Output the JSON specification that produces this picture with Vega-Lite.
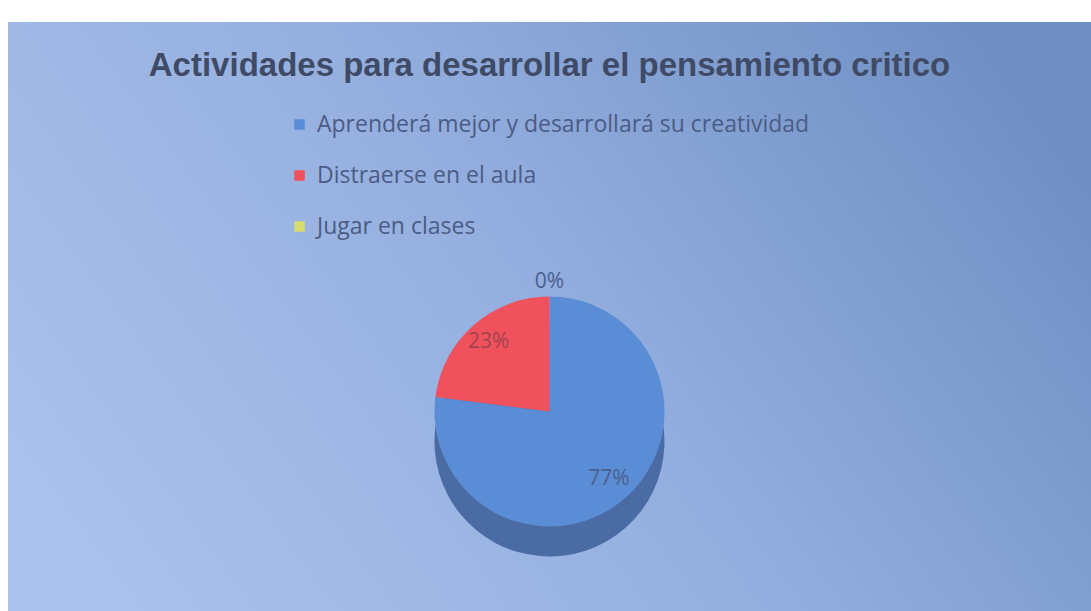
{
  "$schema": "https://vega.github.io/schema/vega-lite/v6.json",
  "width": 1091,
  "height": 611,
  "autosize": {"type": "fit", "contains": "padding"},
  "padding": {"top": 22, "left": 8, "right": 0, "bottom": 0},
  "background": "#ffffff",
  "view": {
    "stroke": null,
    "fill": {
      "gradient": "linear",
      "x1": 0, "y1": 0.7, "x2": 1, "y2": 0.3,
      "stops": [
        {"offset": 0, "color": "#a9c1eb"},
        {"offset": 0.5, "color": "#94afdf"},
        {"offset": 1, "color": "#7090c4"}
      ]
    }
  },
  "title": {
    "text": "Actividades para desarrollar el pensamiento critico",
    "fontSize": 33,
    "font": "Liberation Sans",
    "fontWeight": "bold",
    "color": "#3f4b66",
    "offset": -61,
    "anchor": "middle"
  },
  "data": {
    "values": [
      {"cat": "Aprenderá mejor y desarrollará su creatividad", "pct": 77, "label": "77%"},
      {"cat": "Distraerse en el aula", "pct": 23, "label": "23%"},
      {"cat": "Jugar en clases", "pct": 0, "label": "0%"}
    ]
  },
  "layer": [
    {
      "mark": {"type": "arc", "radius": 115, "yOffset": 125, "color": "#4a6ba3"},
      "encoding": {
        "theta": {"field": "pct", "type": "quantitative", "stack": true},
        "detail": {"field": "cat"},
        "order": {"field": "cat", "sort": "ascending"}
      }
    },
    {
      "mark": {"type": "arc", "radius": 115, "yOffset": 95},
      "encoding": {
        "theta": {"field": "pct", "type": "quantitative", "stack": true},
        "order": {"field": "cat", "sort": "ascending"},
        "color": {
          "field": "cat",
          "type": "nominal",
          "scale": {
            "domain": ["Aprenderá mejor y desarrollará su creatividad", "Distraerse en el aula", "Jugar en clases"],
            "range": ["#5a8dd5", "#ef525c", "#d6db72"]
          },
          "legend": {
            "orient": "none",
            "legendX": 280,
            "legendY": 91,
            "title": null,
            "symbolType": "square",
            "symbolSize": 110,
            "symbolStrokeWidth": 0,
            "labelFontSize": 23,
            "labelFont": "Open Sans",
            "labelColor": "#4b5c85",
            "labelLimit": 0,
            "rowPadding": 27,
            "labelOffset": 6
          }
        }
      }
    },
    {
      "mark": {"type": "text", "radius": 90, "yOffset": 95, "fontSize": 21, "font": "Open Sans", "color": "#4a6090"},
      "encoding": {
        "theta": {"field": "pct", "type": "quantitative", "stack": true},
        "detail": {"field": "cat"},
        "order": {"field": "cat", "sort": "ascending"},
        "text": {"condition": {"test": "datum.pct == 77", "field": "label"}, "value": ""}
      }
    },
    {
      "mark": {"type": "text", "radius": 92, "yOffset": 95, "fontSize": 21, "font": "Open Sans", "color": "#a3434f"},
      "encoding": {
        "theta": {"field": "pct", "type": "quantitative", "stack": true},
        "detail": {"field": "cat"},
        "order": {"field": "cat", "sort": "ascending"},
        "text": {"condition": {"test": "datum.pct == 23", "field": "label"}, "value": ""}
      }
    },
    {
      "mark": {"type": "text", "radius": 130, "yOffset": 95, "fontSize": 21, "font": "Open Sans", "color": "#4a6090"},
      "encoding": {
        "theta": {"field": "pct", "type": "quantitative", "stack": true},
        "detail": {"field": "cat"},
        "order": {"field": "cat", "sort": "ascending"},
        "text": {"condition": {"test": "datum.pct == 0", "field": "label"}, "value": ""}
      }
    }
  ]
}
